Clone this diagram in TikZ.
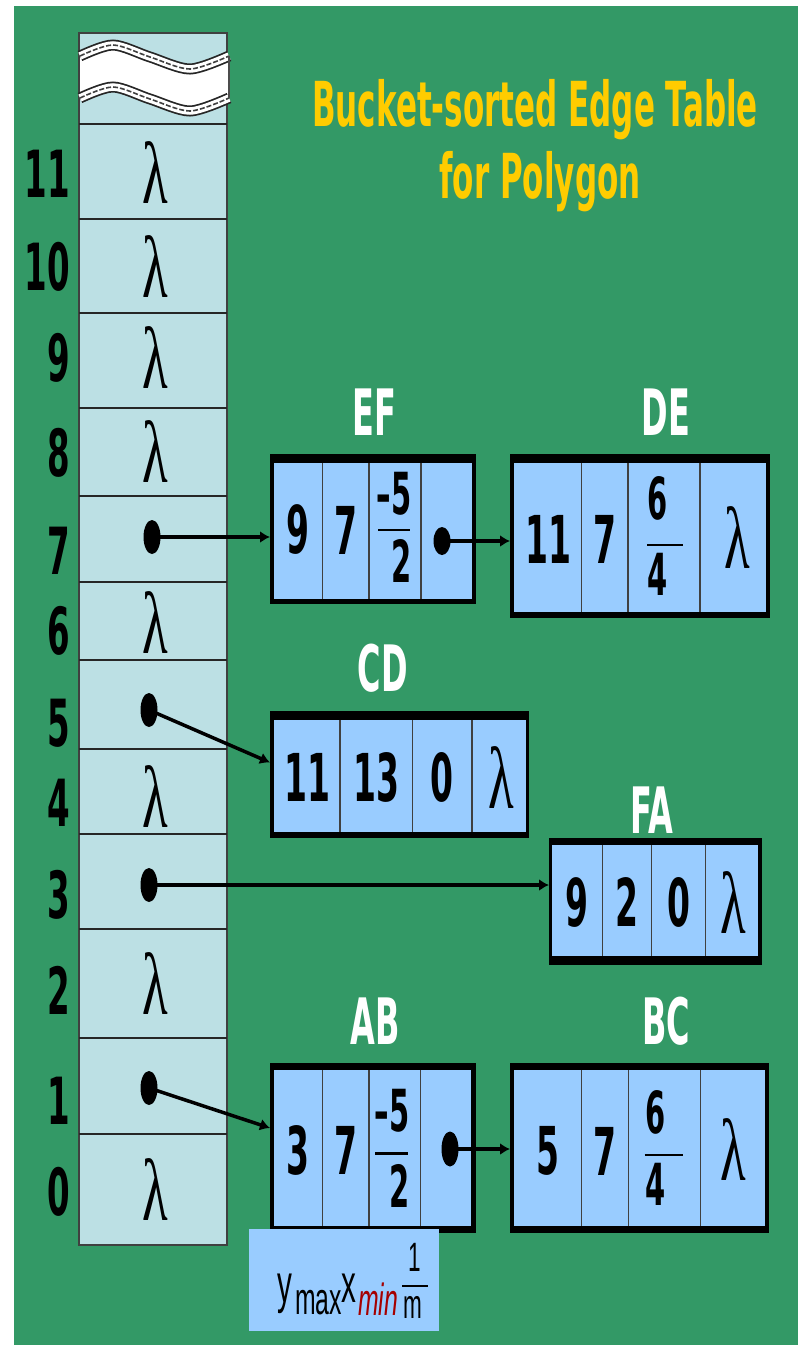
\documentclass[tikz,border=0pt]{standalone}
\usepackage{fontspec}
\usetikzlibrary{shapes.geometric,arrows.meta}
\newfontfamily\narrowsans{DejaVu Sans}[FakeStretch=0.5]
\newfontfamily\keysans{Liberation Sans}[FakeStretch=0.55]
\newfontfamily\greekserif{Liberation Serif}[FakeStretch=0.6]
\newcommand\fsz[1]{\fontsize{#1}{#1}\selectfont}
\definecolor{boardgreen}{RGB}{51,153,102}
\definecolor{bucketfill}{RGB}{188,224,228}
\definecolor{cellfill}{RGB}{153,204,255}
\definecolor{titleyellow}{RGB}{255,204,0}
\definecolor{subred}{RGB}{165,0,0}
\tikzset{
  bucketcol/.style={draw=black!75,line width=1.2pt,fill=bucketfill,inner sep=0,outer sep=0,anchor=north west},
  rowline/.style={draw=black!85,line width=2pt},
  rownum/.style={font={\narrowsans\bfseries\fsz{65}},text=black,inner sep=0,anchor=east},
  lam/.style={font={\greekserif\fsz{88}},text=black,inner sep=0},
  ptr/.style={ellipse,fill=black,inner sep=0,minimum width=17pt,minimum height=34pt},
  outerbox/.style={fill=black,inner sep=0,outer sep=0,anchor=north west},
  innerbox/.style={fill=cellfill,inner sep=0,outer sep=0,anchor=north west},
  divider/.style={draw=black!75,line width=1.2pt},
  cellnum/.style={font={\narrowsans\bfseries\fsz{66}},text=black,inner sep=0},
  fracnum/.style={font={\narrowsans\bfseries\fsz{58}},text=black,inner sep=0},
  fracbar/.style={draw=black,line width=2.5pt},
  edgename/.style={font={\narrowsans\bfseries\fsz{64}},text=white,inner sep=0,anchor=base},
  titletext/.style={font={\narrowsans\bfseries\fsz{62}},text=titleyellow,inner sep=0,anchor=base},
  link/.style={draw=black,line width=3.5pt,-{Latex[length=10pt,width=12pt]}},
  keytext/.style={font={\keysans\fsz{54}},text=black,inner sep=0,anchor=base west},
  keysub/.style={font={\keysans\fsz{45}},text=black,inner sep=0,anchor=base west},
  keyfrac/.style={font={\keysans\fsz{41}},text=black,inner sep=0},
  breakedge/.style={line width=11pt,black!85},
  breakgap/.style={line width=7.5pt,white},
  breakdash/.style={line width=1.6pt,black!75,dash pattern=on 5pt off 2pt},
}
\begin{document}
\begin{tikzpicture}[x=1pt,y=-1pt]
\useasboundingbox (0,0) rectangle (804,1345);
\fill[white] (0,0) rectangle (804,1345);
\fill[boardgreen] (14,6) rectangle (798,1345);

% title
\node[titletext] (title1) at (535,126.7) {Bucket-sorted Edge Table};
\node[titletext] (title2) at (540,198) {for Polygon};

% bucket column
\node[bucketcol,minimum width=148pt,minimum height=1212pt] (bucket) at (79,33) {};
\foreach \yy in {124,219,313,408,496,582,660,749,834,929,1038,1134}
  \draw[rowline] (79,\yy) -- (227,\yy);

% break mark in the top cell
\fill[white] plot[smooth] coordinates {(80,56) (113,45) (150,57) (190,69) (229,56)}
  -- plot[smooth] coordinates {(229,98) (190,111) (150,99) (113,87) (80,98)} -- cycle;
\foreach \dy in {0,42}{
  \draw[breakedge] plot[smooth] coordinates {(80,56+\dy) (113,45+\dy) (150,57+\dy) (190,69+\dy) (229,56+\dy)};
  \draw[breakgap] plot[smooth] coordinates {(80,56+\dy) (113,45+\dy) (150,57+\dy) (190,69+\dy) (229,56+\dy)};
  \draw[breakdash] plot[smooth] coordinates {(80,56+\dy) (113,45+\dy) (150,57+\dy) (190,69+\dy) (229,56+\dy)};
}
\draw[line width=1.5pt,black!70] (229,56) -- (229,98);

% row numbers
\foreach \n/\yy in {11/173.5,10/266.5,9/358,8/453,7/551,6/631,5/723,4/802.5,3/895,2/990.5,1/1101,0/1191.5}
  \node[rownum] (row\n) at (70,\yy) {\n};

% empty buckets
\foreach \n/\yy in {11/173,10/267,9/358,8/452,6/622.5,4/796.7,2/983.8,0/1190}
  \node[lam] (nil\n) at (155,\yy) {λ};

% bucket pointers
\node[ptr] (p7) at (152,537) {};
\node[ptr] (p5) at (149,710) {};
\node[ptr] (p3) at (149,885) {};
\node[ptr] (p1) at (149,1088) {};

% ---- edge records ----
% EF
\node[edgename] (nameEF) at (374,435) {EF};
\node[outerbox,minimum width=206pt,minimum height=150pt] (EFo) at (270,454) {};
\node[innerbox,minimum width=198pt,minimum height=136pt] (EFi) at (274,463) {};
\foreach \xx in {322.7,369,421} \draw[divider] (\xx,463) -- (\xx,599);
\node[cellnum] (EFy) at (298,529) {9};
\node[cellnum] (EFx) at (346,530) {7};
\node[fracnum] (EFm1) at (394,494) {–5};
\draw[fracbar] (378,530) -- (410,530);
\node[fracnum] (EFm2) at (402,561) {2};
\node[ptr,minimum height=28pt] (EFp) at (442,541) {};

% DE
\node[edgename] (nameDE) at (666,435) {DE};
\node[outerbox,minimum width=260pt,minimum height=164pt] (DEo) at (510,454) {};
\node[innerbox,minimum width=252pt,minimum height=149pt] (DEi) at (514,463) {};
\foreach \xx in {581.7,628,700} \draw[divider] (\xx,463) -- (\xx,612);
\node[cellnum] (DEy) at (548,539) {11};
\node[cellnum] (DEx) at (605,539) {7};
\node[fracnum] (DEm1) at (658,498) {6};
\draw[fracbar] (647,545) -- (683,545);
\node[fracnum] (DEm2) at (658,574) {4};
\node[lam] (DEn) at (737,538) {λ};

% CD
\node[edgename] (nameCD) at (383,691.7) {CD};
\node[outerbox,minimum width=259pt,minimum height=127pt] (CDo) at (270,711) {};
\node[innerbox,minimum width=252pt,minimum height=112pt] (CDi) at (274,720) {};
\foreach \xx in {340,412.7,472} \draw[divider] (\xx,720) -- (\xx,832);
\node[cellnum] (CDy) at (307,777) {11};
\node[cellnum] (CDx) at (376,777) {13};
\node[cellnum] (CDm) at (442,777) {0};
\node[lam] (CDn) at (501,777.5) {λ};

% FA
\node[edgename] (nameFA) at (652,833) {FA};
\node[outerbox,minimum width=213pt,minimum height=127pt] (FAo) at (549,838) {};
\node[innerbox,minimum width=206pt,minimum height=111pt] (FAi) at (552,845) {};
\foreach \xx in {602.7,651.7,705.7} \draw[divider] (\xx,845) -- (\xx,956);
\node[cellnum] (FAy) at (577,902) {9};
\node[cellnum] (FAx) at (627,902) {2};
\node[cellnum] (FAm) at (679,902) {0};
\node[lam] (FAn) at (733,902.5) {λ};

% AB
\node[edgename] (nameAB) at (375,1044) {AB};
\node[outerbox,minimum width=206pt,minimum height=170pt] (ABo) at (270,1063) {};
\node[innerbox,minimum width=197pt,minimum height=156pt] (ABi) at (274,1070) {};
\foreach \xx in {322.6,369,420.8} \draw[divider] (\xx,1070) -- (\xx,1226);
\node[cellnum] (ABy) at (298,1150) {3};
\node[cellnum] (ABx) at (346,1150) {7};
\node[fracnum] (ABm1) at (392,1110.5) {–5};
\draw[fracbar] (375,1153.6) -- (407.7,1153.6);
\node[fracnum] (ABm2) at (399.6,1186) {2};
\node[ptr,minimum height=35pt] (ABp) at (450,1149) {};

% BC
\node[edgename] (nameBC) at (666,1044) {BC};
\node[outerbox,minimum width=259pt,minimum height=170pt] (BCo) at (510,1063) {};
\node[innerbox,minimum width=251pt,minimum height=156pt] (BCi) at (514,1070) {};
\foreach \xx in {581.6,628.4,700.4} \draw[divider] (\xx,1070) -- (\xx,1226);
\node[cellnum] (BCy) at (548,1151) {5};
\node[cellnum] (BCx) at (605,1151) {7};
\node[fracnum] (BCm1) at (656,1112) {6};
\draw[fracbar] (644.6,1155) -- (682.5,1155);
\node[fracnum] (BCm2) at (656,1184) {4};
\node[lam] (BCn) at (733,1150) {λ};

% field key
\node[fill=cellfill,inner sep=0,anchor=north west,minimum width=190.4pt,minimum height=101.6pt] (key) at (248.6,1228.7) {};
\node[keytext] (keyy) at (277,1302) {y};
\node[keysub] (keyymax) at (295,1314) {max};
\node[keytext] (keyx) at (341,1302) {x};
\node[keysub,text=subred,font={\keysans\itshape\fsz{45}}] (keyxmin) at (358,1315) {min};
\node[keyfrac] (keyone) at (414.7,1257.7) {1};
\draw[line width=2pt] (402,1285.5) -- (428,1285.5);
\node[keyfrac] (keym) at (413,1307) {m};

% links
\draw[link] (p7.center) -- (p7.center -| EFo.west);
\draw[link] (EFp.center) -- (EFp.center -| DEo.west);
\draw[link] (p5.center) -- ([yshift=12pt]CDo.west);
\draw[link] (p3.center) -- (p3.center -| FAo.west);
\draw[link] (p1.center) -- ([yshift=20pt]ABo.west);
\draw[link] (ABp.center) -- (ABp.center -| BCo.west);
\end{tikzpicture}
\end{document}
